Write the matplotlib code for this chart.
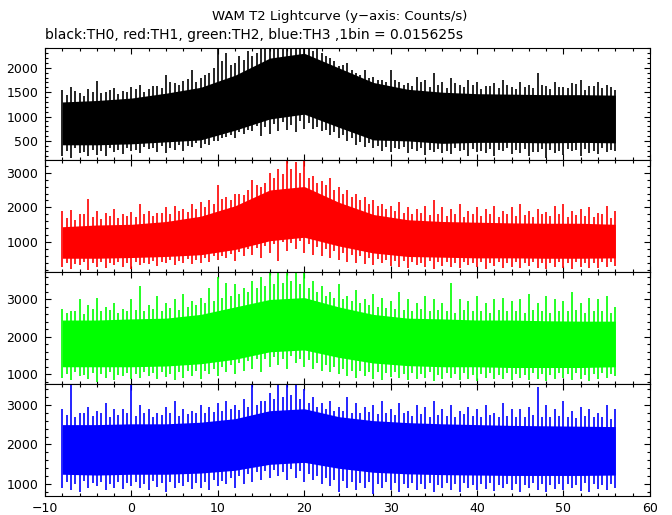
import matplotlib
matplotlib.use("Agg")
import matplotlib.pyplot as plt
from matplotlib.ticker import MultipleLocator

# tiempos (s) de las envolventes
t_core = [-8, -4, 0, 4, 8, 12, 16, 20, 24, 28, 32, 36, 40, 44, 48, 52, 56]
t_spike = list(range(-8, 57))
t_mid = [k + 0.5 for k in range(-8, 56)]

# TH0 (negro)
th0_core_hi = [1300, 1330, 1380, 1480, 1600, 1850, 2200, 2300, 2000, 1700, 1560, 1500, 1470, 1460, 1450, 1450, 1440]
th0_core_lo = [420, 420, 440, 480, 520, 720, 950, 1050, 780, 520, 500, 450, 470, 470, 460, 470, 460]
th0_hi = [1550, 1600, 1480, 1560, 1720, 1500, 1580, 1520, 1600, 1650, 1560, 1620, 1860, 1680, 1740, 1960,
          1800, 1900, 2410, 2300, 2100, 2170, 2250, 2400, 2410, 2410, 2410, 2410, 2410, 2350, 2300, 2200,
          2030, 2100, 1900, 1950, 1820, 1750, 1960, 1700, 1680, 1820, 1750, 1890, 1700, 1800, 1650, 1750,
          1700, 1620, 1680, 1750, 1600, 1700, 1650, 1900, 1620, 1700, 1600, 1680, 1750, 1620, 1700, 1650, 1550]
th0_lo = [200, 150, 250, 180, 220, 200, 280, 230, 300, 250, 330, 280, 250, 320, 300, 380,
          350, 420, 500, 580, 550, 650, 700, 600, 650, 700, 720, 680, 750, 750, 700, 620,
          550, 500, 420, 380, 350, 300, 280, 330, 250, 300, 220, 280, 260, 230, 300, 200,
          280, 250, 180, 300, 230, 260, 200, 280, 150, 250, 220, 300, 200, 260, 230, 280, 300]
th0_mid_hi = [1450, 1520, 1420, 1500, 1480, 1540, 1460, 1500, 1560, 1500, 1620, 1580, 1700, 1640, 1780, 1700,
              1850, 2000, 2150, 2050, 2250, 2350, 2300, 2410, 2410, 2410, 2410, 2410, 2380, 2410, 2250, 2150,
              2050, 1950, 1850, 1800, 1760, 1700, 1750, 1650, 1620, 1700, 1600, 1650, 1580, 1680, 1600, 1640,
              1560, 1620, 1580, 1650, 1560, 1600, 1580, 1640, 1560, 1600, 1580, 1660, 1540, 1620, 1580, 1600]
th0_mid_lo = [300, 350, 280, 320, 300, 350, 310, 360, 320, 380, 350, 400, 360, 420, 400, 450,
              430, 500, 560, 620, 680, 720, 800, 780, 850, 880, 820, 900, 860, 780, 720, 680,
              620, 560, 480, 450, 400, 380, 350, 380, 330, 360, 320, 340, 300, 350, 320, 330,
              300, 340, 320, 350, 310, 330, 280, 340, 320, 300, 340, 310, 330, 300, 350, 320]

# TH1 (rojo)
th1_core_hi = [1450, 1500, 1520, 1600, 1750, 2050, 2500, 2600, 2150, 1800, 1650, 1600, 1580, 1560, 1550, 1550, 1520]
th1_core_lo = [550, 550, 570, 600, 650, 800, 1050, 1150, 900, 700, 600, 580, 560, 560, 550, 550, 560]
th1_hi = [1900, 1920, 1800, 2250, 1900, 1850, 1950, 1800, 1880, 2100, 1900, 1850, 2000, 2050, 1950, 2100,
          2150, 2200, 2650, 2300, 2400, 2350, 2800, 2600, 3000, 3100, 3360, 3300, 3360, 2900, 2750, 2850,
          2600, 2500, 2400, 2300, 2200, 2100, 2050, 2150, 2000, 1950, 2050, 2200, 2000, 1950, 2100, 1900,
          2000, 1950, 2050, 1900, 2000, 2100, 1900, 1950, 1880, 2050, 2100, 1900, 1950, 2000, 1850, 2050, 1900]
th1_lo = [300, 250, 350, 200, 300, 280, 350, 300, 250, 350, 380, 320, 400, 350, 420, 380,
          400, 450, 500, 550, 480, 600, 650, 550, 700, 480, 750, 800, 700, 650, 600, 550,
          500, 450, 400, 380, 350, 400, 330, 300, 280, 350, 300, 250, 320, 300, 270, 350,
          300, 250, 320, 280, 300, 260, 330, 280, 250, 300, 270, 230, 300, 280, 260, 300, 320]
th1_mid_hi = [1700, 1650, 1800, 1720, 1680, 1760, 1700, 1750, 1720, 1800, 1760, 1850, 1800, 1900, 1880, 1950,
              2000, 2100, 2250, 2200, 2400, 2500, 2650, 2700, 2850, 2950, 3100, 3000, 2850, 2700, 2650, 2500,
              2400, 2300, 2200, 2100, 2050, 1950, 1900, 1850, 1800, 1850, 1780, 1820, 1760, 1800, 1740, 1800,
              1760, 1800, 1740, 1820, 1760, 1780, 1720, 1800, 1750, 1800, 1720, 1780, 1760, 1740, 1800, 1700]
th1_mid_lo = [420, 380, 450, 400, 430, 400, 450, 420, 450, 420, 480, 450, 500, 470, 520, 500,
              550, 600, 620, 680, 720, 800, 850, 900, 950, 1000, 980, 1050, 950, 880, 800, 750,
              700, 650, 600, 560, 520, 500, 480, 460, 450, 420, 460, 430, 440, 400, 450, 420,
              430, 400, 450, 410, 430, 400, 440, 420, 410, 440, 400, 430, 420, 400, 440, 430]

# TH2 (verde)
th2_core_hi = [2450, 2450, 2480, 2500, 2600, 2800, 3000, 3050, 2800, 2600, 2500, 2480, 2450, 2450, 2430, 2420, 2420]
th2_core_lo = [1200, 1200, 1200, 1220, 1280, 1400, 1600, 1650, 1450, 1300, 1230, 1200, 1200, 1180, 1180, 1180, 1200]
th2_hi = [2750, 2700, 3000, 2850, 3050, 2800, 2900, 2750, 3000, 3350, 2850, 3100, 2900, 3000, 3150, 2950,
          3050, 3300, 3600, 3450, 3400, 3300, 3500, 3600, 3700, 3736, 3736, 3736, 3736, 3500, 3350, 3200,
          3400, 3100, 3250, 3000, 3150, 3050, 2950, 3200, 3000, 2900, 3100, 3000, 2900, 3450, 3000, 2950,
          3100, 2900, 3000, 3050, 2950, 3000, 3150, 2900, 3100, 3000, 2950, 3200, 2900, 3050, 3000, 3100, 2800]
th2_lo = [900, 850, 950, 880, 800, 900, 850, 950, 870, 900, 950, 880, 920, 850, 900, 950,
          880, 1000, 950, 1050, 1000, 1100, 1150, 1050, 1200, 1250, 1150, 1300, 1200, 1150, 1100, 1050,
          1000, 950, 900, 950, 880, 850, 920, 900, 850, 880, 900, 830, 870, 900, 850, 880,
          820, 900, 860, 880, 840, 900, 850, 880, 830, 870, 900, 850, 880, 820, 860, 900, 950]
th2_mid_hi = [2650, 2700, 2620, 2750, 2680, 2720, 2650, 2700, 2720, 2680, 2750, 2700, 2780, 2720, 2800, 2850,
              2900, 2950, 3050, 3100, 3150, 3200, 3300, 3350, 3400, 3450, 3500, 3400, 3300, 3200, 3100, 3050,
              3000, 2950, 2900, 2850, 2800, 2780, 2750, 2720, 2700, 2750, 2680, 2720, 2700, 2650, 2720, 2680,
              2700, 2650, 2720, 2680, 2700, 2650, 2720, 2680, 2650, 2700, 2680, 2720, 2650, 2700, 2680, 2650]
th2_mid_lo = [1000, 1050, 980, 1020, 1000, 1050, 980, 1020, 1000, 1050, 1020, 1060, 1000, 1050, 1080, 1100,
              1100, 1150, 1200, 1250, 1300, 1350, 1400, 1420, 1450, 1400, 1480, 1420, 1380, 1300, 1250, 1200,
              1150, 1100, 1080, 1050, 1060, 1020, 1050, 1000, 1020, 1000, 1050, 980, 1020, 1000, 1040, 990,
              1000, 1030, 980, 1020, 1000, 990, 1030, 1000, 980, 1020, 1000, 1040, 990, 1000, 1030, 1010]

# TH3 (azul)
th3_core_hi = [2500, 2500, 2520, 2520, 2560, 2650, 2850, 2900, 2700, 2600, 2550, 2520, 2500, 2480, 2470, 2460, 2450]
th3_core_lo = [1250, 1230, 1250, 1250, 1280, 1350, 1500, 1550, 1400, 1300, 1260, 1240, 1230, 1220, 1220, 1220, 1230]
th3_hi = [2900, 3524, 2800, 2950, 2850, 3050, 2900, 2900, 3524, 3000, 2900, 2800, 2950, 3100, 2900, 2850,
          3000, 2950, 3050, 3100, 3000, 3150, 3524, 3100, 3300, 3524, 3524, 3524, 3400, 3200, 3050, 3100,
          2950, 3200, 3050, 2950, 3000, 3100, 2900, 3050, 2850, 3000, 2950, 3100, 2900, 3000, 2850, 2950,
          2900, 3000, 2800, 3050, 2900, 2900, 2950, 3450, 3000, 2900, 3100, 2850, 2950, 2900, 2800, 3000, 2900]
th3_lo = [900, 850, 800, 900, 950, 850, 900, 880, 950, 900, 850, 920, 800, 900, 950, 880,
          900, 850, 950, 1000, 900, 1000, 1050, 1100, 1150, 1200, 1100, 1150, 1050, 1100, 1000, 950,
          800, 900, 850, 900, 750, 900, 850, 800, 900, 850, 880, 800, 900, 850, 800, 900,
          850, 880, 820, 900, 850, 800, 900, 850, 800, 880, 850, 900, 820, 800, 880, 850, 900]
th3_mid_hi = [2750, 2700, 2800, 2720, 2780, 2700, 2750, 2800, 2720, 2780, 2700, 2750, 2800, 2720, 2760, 2800,
              2780, 2820, 2850, 2900, 2880, 2950, 3000, 3100, 3150, 3200, 3250, 3150, 3050, 2950, 2900, 2850,
              2850, 2800, 2780, 2820, 2760, 2800, 2750, 2780, 2720, 2760, 2700, 2750, 2720, 2700, 2760, 2720,
              2700, 2740, 2680, 2720, 2700, 2680, 2740, 2700, 2680, 2720, 2700, 2660, 2720, 2680, 2700, 2650]
th3_mid_lo = [1050, 1000, 1080, 1020, 1050, 1000, 1060, 1020, 1050, 1000, 1080, 1030, 1050, 1020, 1060, 1040,
              1050, 1100, 1080, 1150, 1200, 1250, 1300, 1320, 1350, 1300, 1380, 1320, 1250, 1200, 1150, 1100,
              1080, 1050, 1020, 1060, 1000, 1050, 1020, 1000, 1040, 1000, 1020, 980, 1030, 1000, 1020, 990,
              1000, 1020, 980, 1010, 1000, 990, 1020, 1000, 990, 1010, 1000, 980, 1020, 1000, 990, 1010]

colores = ["black", "#ff0000", "#00ff00", "#0000ff"]
y_limites = [(110, 2410), (159, 3360), (741, 3736), (704, 3524)]
y_mayor = [500, 1000, 1000, 1000]
y_menor = [100, 200, 200, 200]


def plot_panel(ax, serie, color, ylim, mayor, menor):
    core_hi, core_lo, hi, lo, mid_hi, mid_lo = serie
    ax.fill_between(t_core, core_lo, core_hi, color=color, lw=0)
    ax.vlines(t_spike, lo, hi, color=color, lw=1.2)
    ax.vlines(t_mid, mid_lo, mid_hi, color=color, lw=1.2)
    ax.set_xlim(-10, 60)
    ax.set_ylim(*ylim)
    ax.xaxis.set_major_locator(MultipleLocator(10))
    ax.xaxis.set_minor_locator(MultipleLocator(2))
    ax.yaxis.set_major_locator(MultipleLocator(mayor))
    ax.yaxis.set_minor_locator(MultipleLocator(menor))
    ax.tick_params(which="both", direction="in", top=True, right=True,
                   width=0.8, labelsize=9, pad=5)
    ax.tick_params(which="major", length=4.5)
    ax.tick_params(which="minor", length=2)
    for s in ax.spines.values():
        s.set_linewidth(0.8)


def main():
    plt.rcParams["font.family"] = ["DejaVu Sans"]
    fig, axes = plt.subplots(4, 1, figsize=(6.72, 5.15), dpi=100, sharex=True)
    fig.subplots_adjust(left=0.067, right=0.967, top=0.907, bottom=0.037, hspace=0)

    datos = [
        (th0_core_hi, th0_core_lo, th0_hi, th0_lo, th0_mid_hi, th0_mid_lo),
        (th1_core_hi, th1_core_lo, th1_hi, th1_lo, th1_mid_hi, th1_mid_lo),
        (th2_core_hi, th2_core_lo, th2_hi, th2_lo, th2_mid_hi, th2_mid_lo),
        (th3_core_hi, th3_core_lo, th3_hi, th3_lo, th3_mid_hi, th3_mid_lo),
    ]
    for i, ax in enumerate(axes):
        plot_panel(ax, datos[i], colores[i], y_limites[i], y_mayor[i], y_menor[i])
        if i < 3:
            ax.tick_params(labelbottom=False)
    axes[-1].tick_params(axis="x", pad=4)

    fig.text(0.505, 0.967, "WAM T2 Lightcurve (y\u2212axis: Counts/s)", ha="center", va="center", fontsize=9.5)
    fig.text(0.067, 0.932, "black:TH0, red:TH1, green:TH2, blue:TH3 ,1bin = 0.015625s",
             ha="left", va="center", fontsize=10)

    plt.savefig("out.png", dpi=100)
    plt.close()


if __name__ == "__main__":
    main()
